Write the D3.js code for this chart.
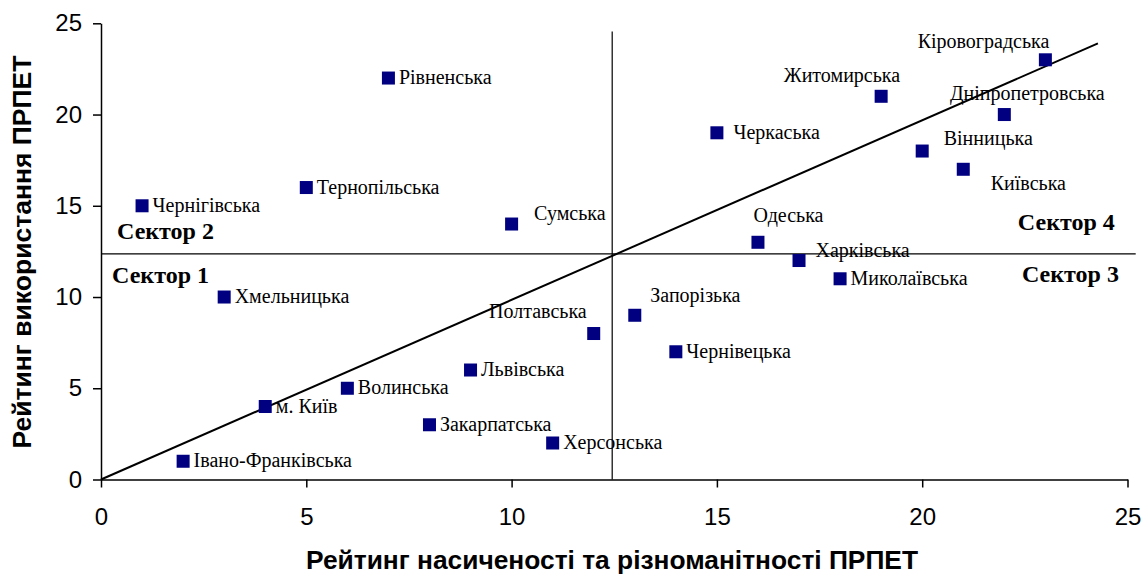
<!DOCTYPE html>
<html>
<head>
<meta charset="utf-8">
<script src="https://cdn.jsdelivr.net/npm/d3@7"></script>
<style>
  html, body { margin: 0; padding: 0; background: #fff; }
  svg { display: block; }
</style>
</head>
<body>
<svg id="chart" width="1147" height="576"></svg>
<script>
// ---- data ----
const regions = ["Кіровоградська","Житомирська","Дніпропетровська","Черкаська","Вінницька","Київська",
  "Одеська","Харківська","Миколаївська","Запорізька","Чернівецька","Полтавська","Сумська",
  "Рівненська","Тернопільська","Чернігівська","Хмельницька","Львівська","Волинська","м. Київ",
  "Закарпатська","Херсонська","Івано-Франківська"];
const saturationRank = [23,19,22,15,20,21,16,17,18,13,14,12,10,7,5,1,3,9,6,4,8,11,2];
const usageRank      = [23,21,20,19,18,17,13,12,11, 9, 7, 8,14,22,16,15,10,6,5,4,3,2,1];
const xTicks = [0,5,10,15,20,25];
const yTicks = [0,5,10,15,20,25];
const xTitle = "Рейтинг насиченості та різноманітності  ПРПЕТ";
const yTitle = "Рейтинг використання  ПРПЕТ";
const sectorNames = ["Сектор 1","Сектор 2","Сектор 3","Сектор 4"];
const sectorX = [0.27, 0.39, 22.43, 22.33];
const sectorY = [10.75, 13.2, 10.8, 13.7];
const dividerX = 12.45;
const dividerY = 12.36;
const trendEnd = [24.28, 23.9];

// label placement relative to marker (pixels)
const labelDx = [4,19,23,10,15,21,-11,10,4,9,4,-7,16,4,4,4,4,4,4,4,4,4,4];
const labelDy = [-12,-14,-15,6,-6,21,-20,-4,6,-13,6,-16,-4,6,6,6,6,6,6,6,6,6,6];
const labelAnchor = ["end","end","middle","start","start","start","start","start","start","start","start","end","start",
  "start","start","start","start","start","start","start","start","start","start"];

// ---- chart ----
const svg = d3.select("#chart");
const x = d3.scaleLinear().domain([0,25]).range([101,1127.5]);
const y = d3.scaleLinear().domain([0,25]).range([479.5,23.3]);

const ax = svg.append("g").attr("transform", `translate(0,${y(0)})`)
  .call(d3.axisBottom(x).tickValues(xTicks).tickSize(8).tickSizeOuter(0).tickPadding(20).tickFormat(d3.format("d")));
ax.selectAll("text").attr("font-family","Arial, 'Liberation Sans', sans-serif").attr("font-size",24).attr("fill","#000");
ax.selectAll("line, path").attr("stroke","#000").attr("stroke-width",1.5);

const ay = svg.append("g").attr("transform", `translate(${x(0)},0)`)
  .call(d3.axisLeft(y).tickValues(yTicks).tickSize(8).tickSizeOuter(0).tickPadding(11).tickFormat(d3.format("d")));
ay.selectAll("text").attr("font-family","Arial, 'Liberation Sans', sans-serif").attr("font-size",24).attr("fill","#000");
ay.selectAll("line, path").attr("stroke","#000").attr("stroke-width",1.5);

// divider lines
svg.append("line").attr("x1", x(dividerX)).attr("x2", x(dividerX)).attr("y1", y(24.55)).attr("y2", y(0))
  .attr("stroke","#000").attr("stroke-width",1.2);
svg.append("line").attr("x1", x(0)).attr("x2", x(25.2)).attr("y1", y(dividerY)).attr("y2", y(dividerY))
  .attr("stroke","#000").attr("stroke-width",1.2);

// trend line
svg.append("line").attr("x1", x(0)).attr("y1", y(0)).attr("x2", x(trendEnd[0])).attr("y2", y(trendEnd[1]))
  .attr("stroke","#000").attr("stroke-width",2);

// sector labels
svg.append("g").selectAll("text").data(sectorNames).join("text")
  .attr("x", (d,i) => x(sectorX[i])).attr("y", (d,i) => y(sectorY[i]))
  .attr("font-family","'Liberation Serif', 'Times New Roman', serif").attr("font-weight","bold")
  .attr("font-size",24).attr("fill","#000")
  .text(d => d);

// markers
const pts = regions.map((r,i) => ({name:r, x:saturationRank[i], y:usageRank[i], i}));
const ms = 13;
svg.append("g").selectAll("rect").data(pts).join("rect")
  .attr("x", d => x(d.x) - ms/2).attr("y", d => y(d.y) - ms/2)
  .attr("width", ms).attr("height", ms).attr("fill","#000080");

// point labels
svg.append("g").selectAll("text").data(pts).join("text")
  .attr("x", d => x(d.x) + (labelAnchor[d.i]==="start" ? ms/2 : 0) + labelDx[d.i])
  .attr("y", d => y(d.y) + labelDy[d.i])
  .attr("text-anchor", d => labelAnchor[d.i])
  .attr("font-family","'Liberation Serif', 'Times New Roman', serif")
  .attr("font-size",20).attr("fill","#000")
  .text(d => d.name);

// axis titles
svg.append("text").attr("x", 612).attr("y", 569).attr("text-anchor","middle")
  .attr("font-family","Arial, 'Liberation Sans', sans-serif").attr("font-weight","bold").attr("font-size",25)
  .attr("textLength", 612).attr("lengthAdjust","spacingAndGlyphs")
  .text(xTitle);
svg.append("text").attr("transform","translate(31,252) rotate(-90)").attr("text-anchor","middle")
  .attr("font-family","Arial, 'Liberation Sans', sans-serif").attr("font-weight","bold").attr("font-size",25)
  .attr("textLength", 393).attr("lengthAdjust","spacingAndGlyphs")
  .text(yTitle);
</script>
</body>
</html>
